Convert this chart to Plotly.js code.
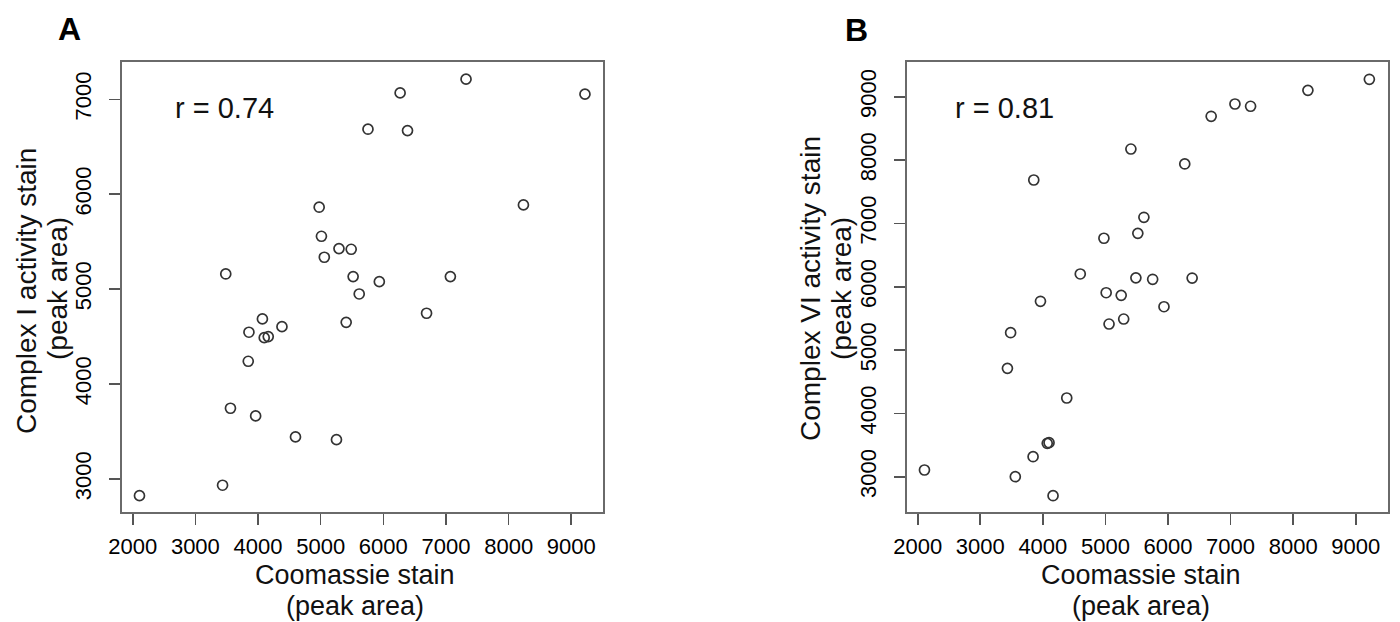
<!DOCTYPE html>
<html>
<head>
<meta charset="utf-8">
<script src="https://cdn.plot.ly/plotly-3.0.1.min.js"></script>
<style>html,body{margin:0;padding:0;background:#fff;}#chart{width:1400px;height:622px;}</style>
</head>
<body>
<div id="chart"></div>
<script>
// Coomassie stain (peak area), shared by both panels
const coomassie = [6268, 5755, 6386, 4976, 5012, 5292, 5487, 5518, 5058, 3485, 5936, 5615, 7320, 9218, 8236, 7070, 6690, 4070, 3855, 4382, 4099, 4163, 5407, 3844, 3560, 3962, 4598, 5252, 3434, 2108];
// Panel A: Complex I activity stain (peak area)
const complexI = [7067, 6685, 6670, 5863, 5557, 5427, 5420, 5132, 5336, 5160, 5079, 4949, 7212, 7054, 5887, 5132, 4746, 4686, 4546, 4605, 4489, 4500, 4650, 4240, 3745, 3664, 3443, 3414, 2934, 2824];
// Panel B: Complex VI activity stain (peak area)
const complexVI = [7938, 6117, 6137, 6765, 5905, 5490, 6140, 6843, 5411, 5274, 5684, 7096, 8849, 9275, 9101, 8885, 8691, 3527, 7685, 4243, 3537, 2700, 8174, 3316, 3000, 5770, 6201, 5864, 4711, 3106];

const xTicksA = [2000, 3000, 4000, 5000, 6000, 7000, 8000, 9000];
const yTicksA = [3000, 4000, 5000, 6000, 7000];
const xTicksB = [2000, 3000, 4000, 5000, 6000, 7000, 8000, 9000];
const yTicksB = [3000, 4000, 5000, 6000, 7000, 8000, 9000];

const FONT = '"Liberation Sans", Arial, Helvetica, sans-serif';
const W = 1400, H = 622;
const px = v => v / W;
const py = v => 1 - v / H;

const marker = {symbol: 'circle-open', size: 10, color: '#333', line: {width: 1.7, color: '#333'}};

const traces = [
  {x: coomassie, y: complexI, type: 'scatter', mode: 'markers', marker: marker, xaxis: 'x', yaxis: 'y', hoverinfo: 'x+y'},
  {x: coomassie, y: complexVI, type: 'scatter', mode: 'markers', marker: marker, xaxis: 'x2', yaxis: 'y2', hoverinfo: 'x+y'}
];

function axis(domain, range, ticks, isY, anchor) {
  const a = {
    domain: domain, range: range, tickmode: 'array', tickvals: ticks,
    ticktext: ticks.map(String),
    showgrid: false, zeroline: false,
    showline: true, mirror: true, linecolor: '#6a6a6a', linewidth: 2,
    ticks: 'outside', ticklen: 11, tickwidth: 1.6, tickcolor: '#555',
    tickfont: {family: FONT, size: 22, color: '#000'},
    anchor: anchor, fixedrange: true
  };
  if (isY) { a.tickangle = -90; a.ticklabelstandoff = 9; }
  else { a.ticklabelstandoff = 3; }
  return a;
}

function label(text, x, y, size, opts) {
  return Object.assign({text: text, x: px(x), y: py(y), xref: 'paper', yref: 'paper',
    xanchor: 'center', yanchor: 'middle', showarrow: false,
    font: {family: FONT, size: size, color: '#111'}}, opts || {});
}

const layout = {
  width: W, height: H,
  margin: {l: 0, r: 0, t: 0, b: 0},
  paper_bgcolor: '#fff', plot_bgcolor: '#fff',
  showlegend: false,
  xaxis: axis([px(122), px(603)], [1829, 9506], xTicksA, false, 'y'),
  yaxis: axis([py(512), py(62)], [2652, 7393], yTicksA, true, 'x'),
  xaxis2: axis([px(907), px(1388)], [1829, 9516], xTicksB, false, 'y2'),
  yaxis2: axis([py(512), py(62)], [2443, 9548], yTicksB, true, 'x2'),
  annotations: [
    label('<b>A</b>', 69, 29, 32, {font: {family: FONT, size: 32, color: '#000'}}),
    label('<b>B</b>', 857, 30, 32, {font: {family: FONT, size: 32, color: '#000'}}),
    label('r = 0.74', 224, 108, 29),
    label('r = 0.81', 1004, 108, 29),
    label('Coomassie stain', 355, 575, 27),
    label('(peak area)', 355, 606, 27),
    label('Coomassie stain', 1141, 575, 27),
    label('(peak area)', 1141, 606, 27),
    label('Complex I activity stain', 26, 291, 28, {textangle: -90}),
    label('(peak area)', 57, 289, 28, {textangle: -90}),
    label('Complex VI activity stain', 810, 289, 28, {textangle: -90}),
    label('(peak area)', 841, 289, 28, {textangle: -90})
  ]
};

Plotly.newPlot('chart', traces, layout, {displayModeBar: false, staticPlot: true});
</script>
</body>
</html>
